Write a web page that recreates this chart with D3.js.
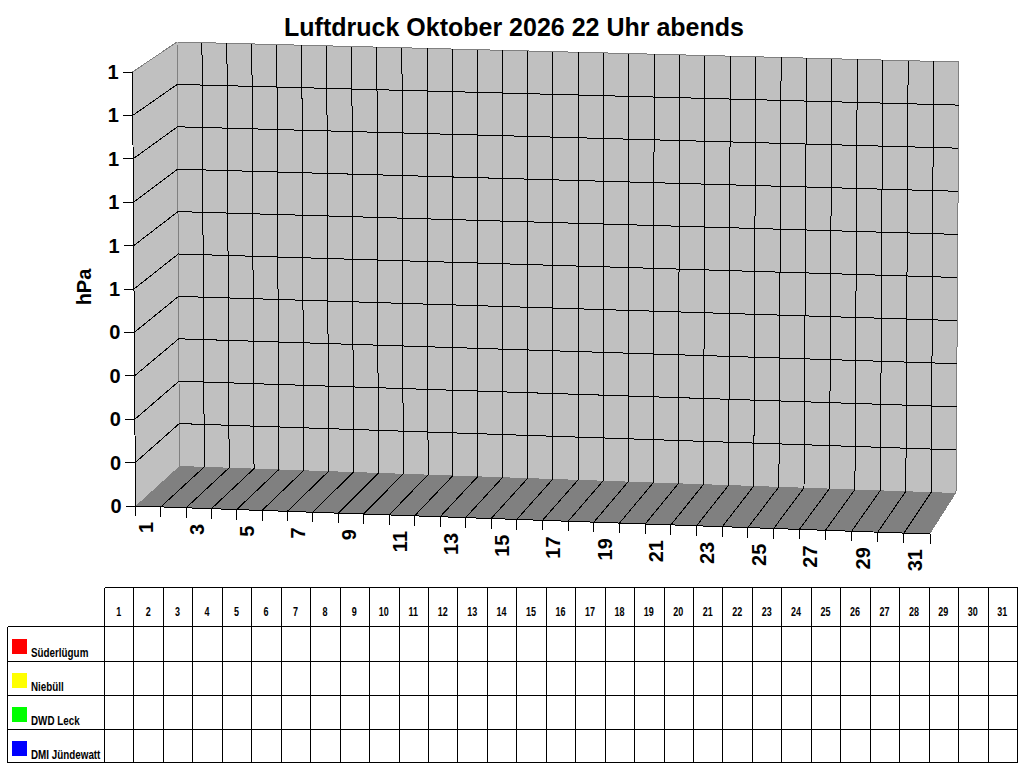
<!DOCTYPE html>
<html>
<head>
<meta charset="utf-8">
<script src="https://cdnjs.cloudflare.com/ajax/libs/d3/7.8.5/d3.min.js"></script>
<style>
  html, body { margin: 0; padding: 0; background: #fff; }
  svg { display: block; }
  text { font-family: "Liberation Sans", Arial, sans-serif; font-weight: bold; fill: #000; }
</style>
</head>
<body>
<div id="chart"></div>
<script>
const titleText = "Luftdruck Oktober 2026 22 Uhr abends";
const yTitle = "hPa";
const days = d3.range(1, 32);
const levels = [0, 0.1, 0.2, 0.3, 0.4, 0.5, 0.6, 0.7, 0.8, 0.9, 1];
const levelLabels = ["0", "0", "0", "0", "0", "1", "1", "1", "1", "1", "1"];
const stations = ["Süderlügum", "Niebüll", "DWD Leck", "DMI Jündewatt"];
const stationColors = ["#ff0000", "#ffff00", "#00ff00", "#0000ff"];
// no readings yet for this month, the table and the plot stay empty
const suederluegum = [];
const niebuell = [];
const dwdLeck = [];
const dmiJuendewatt = [];

const svg = d3.select("#chart").append("svg")
  .attr("width", 1024)
  .attr("height", 768);

// The fake 3D box: one scale per edge, walls are blended between them
// x edges are piecewise since the perspective widens the days a bit to the right
const edge = {
  backTopX: d3.scaleLinear().domain([0, 6, 14, 27, 31]).range([177, 326.7, 527.3, 857.3, 959]),
  backBottomX: d3.scaleLinear().domain([0, 1, 13, 25, 30, 31]).range([179.5, 204.3, 502.7, 804, 931.3, 956]),
  backLeftY: d3.scaleLinear().domain([0, 1]).range([466, 42]),
  backRightY: d3.scaleLinear().domain([0, 1]).range([493, 62]),
  frontX: d3.scaleLinear().domain([0, 7, 14, 26, 31]).range([135.5, 312.6, 491, 799.3, 930]),
  frontY: d3.scaleLinear().domain([0, 31]).range([506, 534]),
  sideX: d3.scaleLinear().domain([0, 1]).range([135.5, 132.5]),
  sideY: d3.scaleLinear().domain([0, 1]).range([506, 72])
};

const backPoint = (d, v) => [
  edge.backBottomX(d) + (edge.backTopX(d) - edge.backBottomX(d)) * v,
  edge.backLeftY(v) + (edge.backRightY(v) - edge.backLeftY(v)) * d / 31
];
const floorFront = (d) => [edge.frontX(d), edge.frontY(d)];
const sidePoint = (v) => [edge.sideX(v), edge.sideY(v)];
const line = d3.line();

const box = svg.append("g").attr("shape-rendering", "crispEdges");

// left wall, back wall, floor
box.append("path")
  .attr("d", line([sidePoint(0), sidePoint(1), backPoint(0, 1), backPoint(0, 0)]) + "Z")
  .attr("fill", "#c0c0c0");
box.append("path")
  .attr("d", line([backPoint(0, 0), backPoint(0, 1), backPoint(31, 1), backPoint(31, 0)]) + "Z")
  .attr("fill", "#c0c0c0");
box.append("path")
  .attr("d", line([floorFront(0), backPoint(0, 0), backPoint(31, 0), floorFront(31)]) + "Z")
  .attr("fill", "#808080");

// gray outline of the walls
box.append("path")
  .attr("d", line([sidePoint(1), backPoint(0, 1), backPoint(31, 1), backPoint(31, 0)]))
  .attr("fill", "none")
  .attr("stroke", "#808080");
box.append("path")
  .attr("d", line([backPoint(0, 1), backPoint(0, 0)]))
  .attr("fill", "none")
  .attr("stroke", "#808080");

const gridLevels = levels.slice(1, -1);
const gridDays = d3.range(1, 31);

box.selectAll(".level")
  .data(gridLevels)
  .enter().append("path")
    .attr("class", "level")
    .attr("d", (v) => line([sidePoint(v), backPoint(0, v), backPoint(31, v)]))
    .attr("fill", "none")
    .attr("stroke", "#000");

box.selectAll(".dayWall")
  .data(gridDays)
  .enter().append("path")
    .attr("class", "dayWall")
    .attr("d", (d) => line([backPoint(d, 1), backPoint(d, 0), floorFront(d)]))
    .attr("fill", "none")
    .attr("stroke", "#000");

// front edges
box.append("path")
  .attr("d", line([sidePoint(1), sidePoint(0), floorFront(31)]))
  .attr("fill", "none")
  .attr("stroke", "#000");

// y ticks and labels
box.selectAll(".yTick")
  .data(levels)
  .enter().append("path")
    .attr("class", "yTick")
    .attr("d", (v) => {
      const p = sidePoint(v);
      return line([[p[0] - 10, p[1]], p]);
    })
    .attr("stroke", "#000");

svg.selectAll(".yLabel")
  .data(levels)
  .enter().append("text")
    .attr("class", "yLabel")
    .attr("x", (v) => sidePoint(v)[0] - 14)
    .attr("y", (v) => sidePoint(v)[1] + 7)
    .attr("text-anchor", "end")
    .attr("font-size", 20)
    .text((v, i) => levelLabels[i]);

// x ticks, every day boundary
box.selectAll(".xTick")
  .data(d3.range(0, 32))
  .enter().append("path")
    .attr("class", "xTick")
    .attr("d", (d) => {
      const p = floorFront(d);
      return line([p, [p[0], p[1] + 10]]);
    })
    .attr("stroke", "#000");

svg.selectAll(".xLabel")
  .data(days.filter((d) => d % 2 == 1))
  .enter().append("text")
    .attr("class", "xLabel")
    .attr("transform", (d) => {
      const p = floorFront(d - 0.5);
      return `translate(${p[0] + 5},${p[1] + 15.5}) rotate(-90)`;
    })
    .attr("text-anchor", "end")
    .attr("font-size", 20)
    .text((d) => d);

svg.append("text")
  .attr("x", 514)
  .attr("y", 36)
  .attr("text-anchor", "middle")
  .attr("font-size", 25)
  .text(titleText);

svg.append("text")
  .attr("transform", "translate(91,287) rotate(-90)")
  .attr("text-anchor", "middle")
  .attr("font-size", 20)
  .text(yTitle);

// data table below the chart
const colX = d3.scaleLinear().domain([0, 31]).range([104.5, 1017.5]);
const rowY = d3.scaleOrdinal().domain([0, 1, 2, 3, 4]).range([626.5, 661.5, 695.5, 729.5, 762.5]);
const tableTop = 587.5;
const tableLeft = 7.5;

const table = svg.append("g");
const grid = table.append("g").attr("shape-rendering", "crispEdges");

grid.selectAll(".colLine")
  .data(d3.range(0, 32))
  .enter().append("line")
    .attr("class", "colLine")
    .attr("x1", (i) => colX(i))
    .attr("x2", (i) => colX(i))
    .attr("y1", tableTop)
    .attr("y2", rowY(4))
    .attr("stroke", "#000");

grid.append("line")
  .attr("x1", colX(0)).attr("x2", colX(31))
  .attr("y1", tableTop).attr("y2", tableTop)
  .attr("stroke", "#000");

grid.selectAll(".rowLine")
  .data([0, 1, 2, 3, 4])
  .enter().append("line")
    .attr("class", "rowLine")
    .attr("x1", tableLeft)
    .attr("x2", (i) => (i == 4 ? colX(31) : colX(31) - 1))
    .attr("y1", (i) => rowY(i))
    .attr("y2", (i) => rowY(i))
    .attr("stroke", "#000");

grid.append("line")
  .attr("x1", tableLeft).attr("x2", tableLeft)
  .attr("y1", rowY(0)).attr("y2", rowY(4))
  .attr("stroke", "#000");

// the table font is a narrow one, squeeze the regular bold
table.selectAll(".dayHead")
  .data(days)
  .enter().append("text")
    .attr("class", "dayHead")
    .attr("transform", (d) => `translate(${colX(d - 0.5) - 0.5},616) scale(0.75,1)`)
    .attr("text-anchor", "middle")
    .attr("font-size", 12)
    .text((d) => d);

table.selectAll(".swatch")
  .data(stations)
  .enter().append("rect")
    .attr("class", "swatch")
    .attr("x", 12)
    .attr("y", (s, i) => 639 + i * 34)
    .attr("width", 15)
    .attr("height", 15)
    .attr("fill", (s, i) => stationColors[i]);

table.selectAll(".station")
  .data(stations)
  .enter().append("text")
    .attr("class", "station")
    .attr("transform", (s, i) => `translate(31,${657 + i * 34}) scale(0.82,1)`)
    .attr("font-size", 12)
    .text((s) => s);
</script>
</body>
</html>
